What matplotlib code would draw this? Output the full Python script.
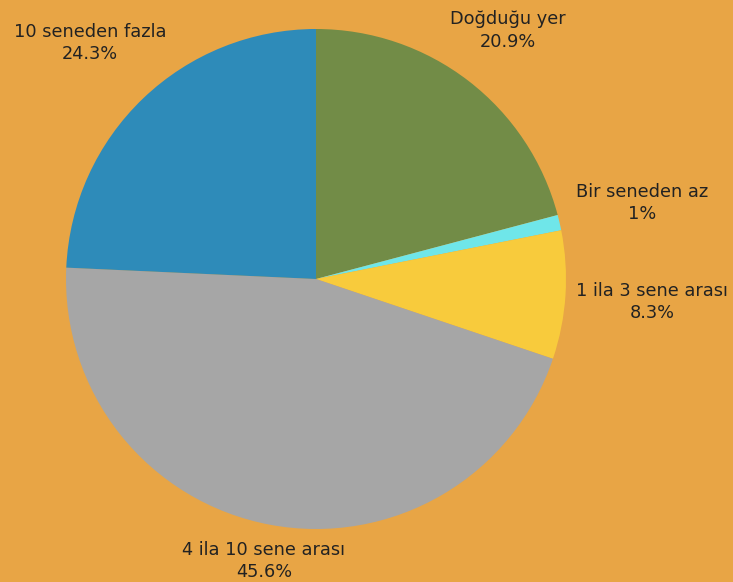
import matplotlib.pyplot as plt

labels = ["Doğduğu yer", "Bir seneden az", "1 ila 3 sene arası", "4 ila 10 sene arası", "10 seneden fazla"]
values = [20.9, 1.0, 8.3, 45.6, 24.3]
pct_text = ["20.9%", "1%", "8.3%", "45.6%", "24.3%"]
colors = ["#728c47", "#6fe6e9", "#f8cb3c", "#a6a6a6", "#2e8bb9"]
# label centres in data units (pie radius = 1)
label_pos = [(0.768, 0.994), (1.304, 0.304), (1.344, -0.092), (-0.208, -1.128), (-0.904, 0.944)]

bg = "#e8a545"
fig = plt.figure(figsize=(7.33, 5.82), dpi=100, facecolor=bg)
ax = fig.add_axes([66 / 733, 53 / 582, 500 / 733, 500 / 582])
ax.set_facecolor(bg)

ax.pie(values, colors=colors, startangle=90, counterclock=False, radius=1,
       wedgeprops=dict(linewidth=0))

for lab, pct, (x, y) in zip(labels, pct_text, label_pos):
    ax.text(x, y, lab + "\n" + pct, ha="center", va="center", fontsize=12.8,
            color="#222222", family="DejaVu Sans", linespacing=1.35)

ax.set_xlim(-1, 1)
ax.set_ylim(-1, 1)
ax.set_aspect("auto")
ax.axis("off")

fig.savefig("out.png", dpi=100, facecolor=bg)
